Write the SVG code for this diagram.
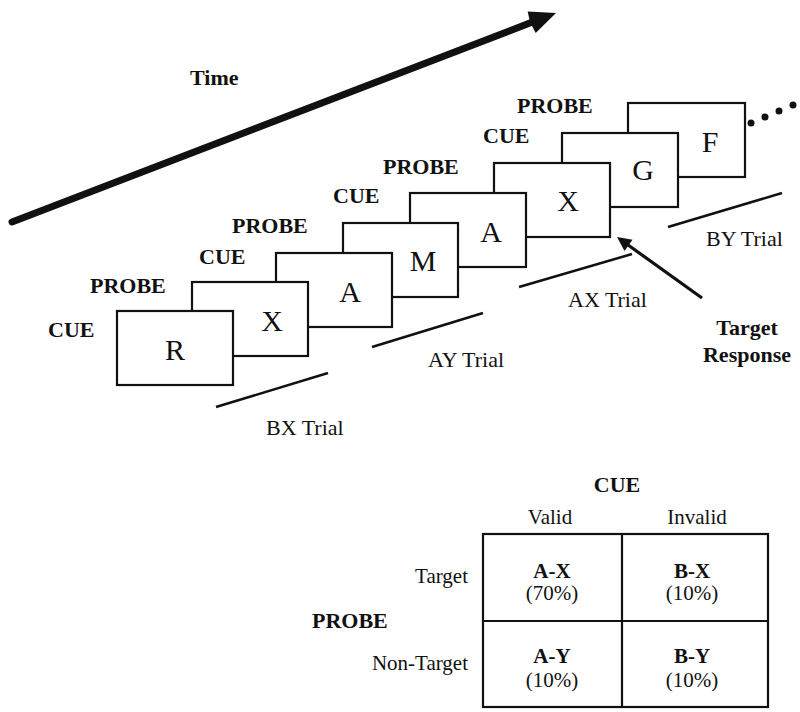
<svg xmlns="http://www.w3.org/2000/svg" width="800" height="712" viewBox="0 0 800 712">
<style>
.box{fill:#fff;stroke:#111;stroke-width:2.2}
.let{font-family:"Liberation Serif",serif;font-size:30px;fill:#111;text-anchor:middle}
.lab{font-family:"Liberation Serif",serif;font-size:22px;font-weight:bold;fill:#111}
.mid{text-anchor:middle}
.trial{font-family:"Liberation Serif",serif;font-size:22px;fill:#111}
.tl{stroke:#111;stroke-width:2.5;fill:none}
.tbl{font-family:"Liberation Serif",serif;font-size:21px;fill:#111;text-anchor:middle}
.tbl.end{text-anchor:end}
.tb{font-weight:bold}
.grid{stroke:#111;stroke-width:2.2;fill:none}
</style>
<rect width="800" height="712" fill="#fff"/>
<g id="time-arrow">
<line x1="12" y1="222" x2="533" y2="21.8" stroke="#111" stroke-width="7" stroke-linecap="round"/>
<polygon points="556,13 535.7,33 530,22 527.7,11.5" fill="#111"/>
<text class="lab" x="190" y="85">Time</text>
</g>
<g id="trial-boxes">
<g id="box-F"><rect class="box" x="628" y="103" width="117" height="74"/><text class="let" x="710" y="152">F</text></g>
<g id="box-G"><rect class="box" x="562" y="133" width="116" height="74"/><text class="let" x="643" y="180">G</text></g>
<g id="box-X2"><rect class="box" x="494" y="163" width="116" height="74"/><text class="let" x="568" y="211">X</text></g>
<g id="box-A2"><rect class="box" x="410" y="193" width="116" height="74"/><text class="let" x="491" y="242">A</text></g>
<g id="box-M"><rect class="box" x="343" y="223" width="115" height="74"/><text class="let" x="423" y="271">M</text></g>
<g id="box-A1"><rect class="box" x="276" y="253" width="116" height="74"/><text class="let" x="350" y="302">A</text></g>
<g id="box-X1"><rect class="box" x="192" y="282" width="116" height="74"/><text class="let" x="272" y="331">X</text></g>
<g id="box-R"><rect class="box" x="117" y="311" width="116" height="74"/><text class="let" x="175" y="360">R</text></g>
</g>
<g id="dots" fill="#111">
<circle cx="751" cy="123" r="3.5"/><circle cx="765" cy="117" r="3.5"/><circle cx="779" cy="111" r="3.5"/><circle cx="793" cy="105" r="3.5"/>
</g>
<g id="stim-labels">
<text class="lab" x="48" y="337">CUE</text>
<text class="lab" x="90" y="293">PROBE</text>
<text class="lab" x="199" y="264">CUE</text>
<text class="lab" x="232" y="233">PROBE</text>
<text class="lab" x="333" y="203">CUE</text>
<text class="lab" x="383" y="174">PROBE</text>
<text class="lab" x="483" y="143">CUE</text>
<text class="lab" x="517" y="113">PROBE</text>
</g>
<g id="connectors">
<line class="tl" x1="216" y1="407" x2="328" y2="373"/>
<line class="tl" x1="372" y1="347" x2="483" y2="313"/>
<line class="tl" x1="519" y1="287" x2="632" y2="254"/>
<line class="tl" x1="668" y1="227" x2="782" y2="193"/>
<line x1="702" y1="298" x2="626" y2="243.5" stroke="#111" stroke-width="3.2"/>
<polygon points="617,237 632.5,239.8 624.5,251" fill="#111"/>
</g>
<g id="trial-labels">
<text class="trial" x="266" y="435">BX Trial</text>
<text class="trial" x="428" y="367">AY Trial</text>
<text class="trial" x="568" y="307">AX Trial</text>
<text class="trial" x="706" y="246">BY Trial</text>
<text class="lab mid" x="747" y="335">Target</text>
<text class="lab mid" x="747" y="362">Response</text>
</g>
<g id="table">
<rect class="grid" x="483" y="534" width="285" height="173"/>
<line class="grid" x1="622" y1="534" x2="622" y2="707"/>
<line class="grid" x1="483" y1="621" x2="768" y2="621"/>
<text class="lab mid" x="617" y="492">CUE</text>
<text class="tbl" x="550" y="524">Valid</text>
<text class="tbl" x="697" y="524">Invalid</text>
<text class="tbl end" x="468" y="583">Target</text>
<text class="tbl end" x="468" y="670">Non-Target</text>
<text class="lab" x="312" y="628">PROBE</text>
<text class="tbl tb" x="552" y="578">A-X</text>
<text class="tbl" x="552" y="600">(70%)</text>
<text class="tbl tb" x="692" y="578">B-X</text>
<text class="tbl" x="692" y="600">(10%)</text>
<text class="tbl tb" x="552" y="663">A-Y</text>
<text class="tbl" x="552" y="687">(10%)</text>
<text class="tbl tb" x="692" y="663">B-Y</text>
<text class="tbl" x="692" y="687">(10%)</text>
</g>
</svg>
